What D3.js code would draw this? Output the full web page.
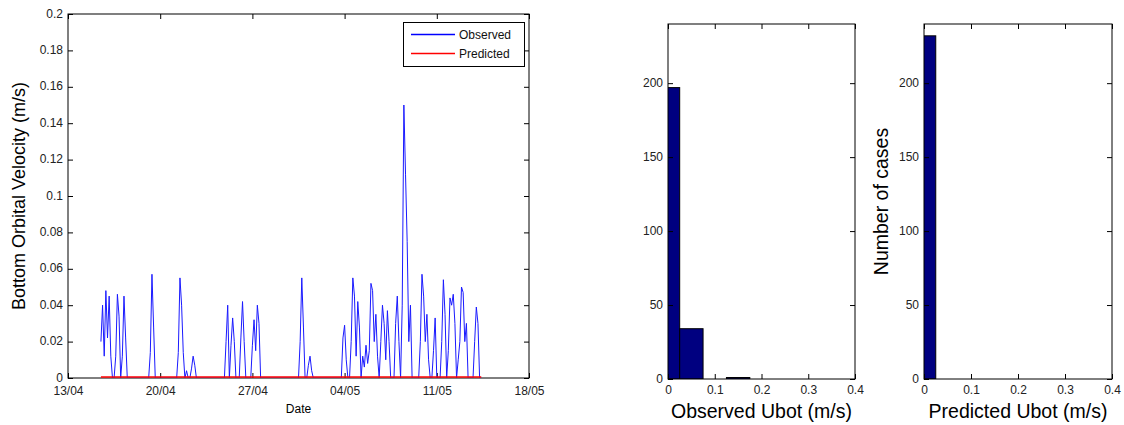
<!DOCTYPE html>
<html>
<head>
<meta charset="utf-8">
<title>Bottom orbital velocity</title>
<script src="https://d3js.org/d3.v7.min.js"></script>
<style>
  body { margin: 0; background: #fff; }
  svg { display: block; font-family: Arial, "Liberation Sans", sans-serif; }
  .tick text { fill: #222; }
</style>
</head>
<body>
<svg id="chart" width="1124" height="425"></svg>
<script>
// observed Ubot (m/s), 3-hourly from 15/04 12:00, one row per day
const observed = [
  0.02, 0.04, 0.012, 0.048, 0.022, 0.045, 0.012, 0,
  0, 0.012, 0.046, 0.034, 0, 0.012, 0.045, 0.022,
  0, 0, 0, 0, 0, 0, 0, 0,
  0, 0, 0, 0, 0, 0, 0.014, 0.057,
  0.028, 0, 0, 0, 0, 0, 0, 0,
  0, 0, 0, 0, 0, 0, 0, 0.014,
  0.055, 0.04, 0.014, 0, 0.004, 0, 0, 0.005,
  0.012, 0.007, 0, 0, 0, 0, 0, 0,
  0, 0, 0, 0, 0, 0, 0, 0,
  0, 0, 0, 0, 0.02, 0.04, 0, 0.018,
  0.033, 0.02, 0, 0, 0, 0.022, 0.042, 0.02,
  0, 0, 0, 0, 0.018, 0.032, 0.015, 0.04,
  0.03, 0, 0, 0, 0, 0, 0, 0,
  0, 0, 0, 0, 0, 0, 0, 0,
  0, 0, 0, 0, 0, 0, 0, 0,
  0, 0.02, 0.055, 0.028, 0, 0, 0.007, 0.012,
  0.004, 0, 0, 0, 0, 0, 0, 0,
  0, 0, 0, 0, 0, 0, 0, 0,
  0, 0, 0, 0.022, 0.029, 0.01, 0, 0,
  0.02, 0.055, 0.045, 0.012, 0.042, 0.028, 0, 0.012,
  0.006, 0.018, 0.008, 0.015, 0.052, 0.048, 0.02, 0.035,
  0.012, 0, 0.02, 0.04, 0.03, 0.01, 0.037, 0.02,
  0, 0, 0, 0.03, 0.045, 0.02, 0, 0.04,
  0.15, 0.112, 0.075, 0.02, 0.04, 0, 0, 0,
  0, 0, 0.02, 0.057, 0.045, 0.02, 0.035, 0.01,
  0, 0, 0.015, 0.033, 0, 0, 0, 0.02,
  0.054, 0.035, 0, 0.015, 0.044, 0.04, 0.046, 0.03,
  0, 0.01, 0.02, 0.05, 0.047, 0.02, 0.03, 0,
  0, 0, 0, 0.02, 0.039, 0.03, 0, 0
];
// predicted Ubot (m/s), same times
const predicted = [
  0, 0, 0, 0, 0, 0, 0, 0,  0, 0, 0, 0, 0, 0, 0, 0,
  0, 0, 0, 0, 0, 0, 0, 0,  0, 0, 0, 0, 0, 0, 0, 0,
  0, 0, 0, 0, 0, 0, 0, 0,  0, 0, 0, 0, 0, 0, 0, 0,
  0, 0, 0, 0, 0, 0, 0, 0,  0, 0, 0, 0, 0, 0, 0, 0,
  0, 0, 0, 0, 0, 0, 0, 0,  0, 0, 0, 0, 0, 0, 0, 0,
  0, 0, 0, 0, 0, 0, 0, 0,  0, 0, 0, 0, 0, 0, 0, 0,
  0, 0, 0, 0, 0, 0, 0, 0,  0, 0, 0, 0, 0, 0, 0, 0,
  0, 0, 0, 0, 0, 0, 0, 0,  0, 0, 0, 0, 0, 0, 0, 0,
  0, 0, 0, 0, 0, 0, 0, 0,  0, 0, 0, 0, 0, 0, 0, 0,
  0, 0, 0, 0, 0, 0, 0, 0,  0, 0, 0, 0, 0, 0, 0, 0,
  0, 0, 0, 0, 0, 0, 0, 0,  0, 0, 0, 0, 0, 0, 0, 0,
  0, 0, 0, 0, 0, 0, 0, 0,  0, 0, 0, 0, 0, 0, 0, 0,
  0, 0, 0, 0, 0, 0, 0, 0,  0, 0, 0, 0, 0, 0, 0, 0,
  0, 0, 0, 0, 0, 0, 0, 0,  0, 0, 0, 0, 0, 0, 0, 0,
  0, 0, 0, 0, 0, 0, 0, 0
];
const startTime = new Date(Date.UTC(2010, 3, 15, 12));
const stepHours = 3;

const dateTicks = ["13/04", "20/04", "27/04", "04/05", "11/05", "18/05"];
const velocityTicks = [0, 0.02, 0.04, 0.06, 0.08, 0.1, 0.12, 0.14, 0.16, 0.18, 0.2];

// histograms: bin centres (m/s) and counts
const binCentres = [0, 0.05, 0.1, 0.15];
const observedCounts = [197, 34, 0, 1];
const predictedCounts = [232, 0, 0, 0];
const binWidth = 0.05;
const ubotTicks = [0, 0.1, 0.2, 0.3, 0.4];
const countTicks = [0, 50, 100, 150, 200];

const svg = d3.select("#chart");
const parseTick = d3.utcParse("%d/%m/%Y");

// ---------- time series ----------
const m = { left: 68, right: 529, top: 14, bottom: 378 };
const times = observed.map((d, i) => d3.utcHour.offset(startTime, i * stepHours));
const tickDates = dateTicks.map(s => parseTick(s + "/2010"));

const x = d3.scaleUtc().domain([tickDates[0], tickDates[tickDates.length - 1]]).range([m.left, m.right]);
const y = d3.scaleLinear().domain([0, 0.2]).range([m.bottom, m.top]);

svg.append("defs").append("clipPath").attr("id", "clip-main")
  .append("rect").attr("x", m.left).attr("y", m.top - 1)
  .attr("width", m.right - m.left).attr("height", m.bottom - m.top + 1);

function frame(g, x0, x1, y0, y1) {
  g.append("rect").attr("x", x0).attr("y", y0).attr("width", x1 - x0).attr("height", y1 - y0)
    .attr("fill", "none").attr("stroke", "#000").attr("stroke-width", 1);
}

const main = svg.append("g");
frame(main, m.left, m.right, m.top, m.bottom);
main.append("g").attr("transform", `translate(0,${m.bottom})`)
  .call(d3.axisBottom(x).tickValues(tickDates).tickFormat(d3.utcFormat("%d/%m")).tickSizeInner(-5).tickSizeOuter(0).tickPadding(8))
  .call(g => g.selectAll("text").attr("font-size", 12));
main.append("g").attr("transform", `translate(0,${m.top})`)
  .call(d3.axisTop(x).tickValues(tickDates).tickFormat("").tickSizeInner(-5).tickSizeOuter(0));
main.append("g").attr("transform", `translate(${m.left},0)`)
  .call(d3.axisLeft(y).tickValues(velocityTicks).tickFormat(d => d3.format("")(+d.toFixed(2))).tickSizeInner(-5).tickSizeOuter(0).tickPadding(5))
  .call(g => g.selectAll("text").attr("font-size", 12).attr("dy", "0.25em"));
main.append("g").attr("transform", `translate(${m.right},0)`)
  .call(d3.axisRight(y).tickValues(velocityTicks).tickFormat("").tickSizeInner(-5).tickSizeOuter(0));
main.selectAll(".domain").remove();

const line = d3.line().x((d, i) => x(times[i])).y(d => y(d));
main.append("path").datum(observed).attr("clip-path", "url(#clip-main)")
  .attr("fill", "none").attr("stroke", "#1a1aff").attr("stroke-width", 1).attr("d", line);
main.append("path").datum(predicted)
  .attr("transform", "translate(0,-1)")
  .attr("fill", "none").attr("stroke", "#ff0000").attr("stroke-width", 1.5).attr("d", line);

main.append("text").attr("x", (m.left + m.right) / 2).attr("y", 413)
  .attr("text-anchor", "middle").attr("font-size", 12).text("Date");
main.append("text").attr("transform", `translate(25,${(m.top + m.bottom) / 2}) rotate(-90)`)
  .attr("text-anchor", "middle").attr("font-size", 18).text("Bottom Orbital Velocity (m/s)");

// legend
const legend = main.append("g");
legend.append("rect").attr("x", 403.5).attr("y", 22.5).attr("width", 121).attr("height", 44)
  .attr("fill", "#fff").attr("stroke", "#000");
const legendItems = [{ name: "Observed", color: "#0000ff" }, { name: "Predicted", color: "#ff0000" }];
legend.selectAll("line").data(legendItems).join("line")
  .attr("x1", 411).attr("x2", 455)
  .attr("y1", (d, i) => 34.5 + i * 19).attr("y2", (d, i) => 34.5 + i * 19)
  .attr("stroke", d => d.color).attr("stroke-width", 1.5);
legend.selectAll("text").data(legendItems).join("text")
  .attr("x", 459).attr("y", (d, i) => 39 + i * 19)
  .attr("font-size", 12).attr("fill", "#111").text(d => d.name);

// ---------- histograms ----------
function histogram(x0, x1, counts, label, yLabel) {
  const hb = { left: x0, right: x1, top: 24, bottom: 379 };
  const hx = d3.scaleLinear().domain([0, 0.4]).range([hb.left, hb.right]);
  const hy = d3.scaleLinear().domain([0, 240]).range([hb.bottom, hb.top]);
  const g = svg.append("g");
  const id = "clip-" + label.split(" ")[0];
  g.append("clipPath").attr("id", id).append("rect")
    .attr("x", hb.left).attr("y", hb.top).attr("width", hb.right - hb.left).attr("height", hb.bottom - hb.top);
  g.append("g").attr("clip-path", `url(#${id})`).selectAll("rect")
    .data(binCentres.map((c, i) => ({ c, n: counts[i] })).filter(d => d.n > 0))
    .join("rect")
    .attr("x", d => hx(d.c - binWidth / 2)).attr("width", d => hx(d.c + binWidth / 2) - hx(d.c - binWidth / 2))
    .attr("y", d => hy(d.n)).attr("height", d => hy(0) - hy(d.n))
    .attr("fill", "#000080").attr("stroke", "#000").attr("stroke-width", 1);

  g.append("g").attr("transform", `translate(0,${hb.bottom})`)
    .call(d3.axisBottom(hx).tickValues(ubotTicks).tickFormat(d3.format("")).tickSizeInner(-5).tickSizeOuter(0).tickPadding(6))
    .call(a => a.selectAll("text").attr("font-size", 12));
  g.append("g").attr("transform", `translate(0,${hb.top})`)
    .call(d3.axisTop(hx).tickValues(ubotTicks).tickFormat("").tickSizeInner(-5).tickSizeOuter(0));
  g.append("g").attr("transform", `translate(${hb.left},0)`)
    .call(d3.axisLeft(hy).tickValues(countTicks).tickSizeInner(-5).tickSizeOuter(0).tickPadding(5))
    .call(a => a.selectAll("text").attr("font-size", 12).attr("dy", "0.28em"));
  g.append("g").attr("transform", `translate(${hb.right},0)`)
    .call(d3.axisRight(hy).tickValues(countTicks).tickFormat("").tickSizeInner(-5).tickSizeOuter(0));
  g.selectAll(".domain").remove();
  frame(g, hb.left, hb.right, hb.top, hb.bottom);

  g.append("text").attr("x", (hb.left + hb.right) / 2).attr("y", 418)
    .attr("text-anchor", "middle").attr("font-size", 19.5).text(label);
  if (yLabel) {
    g.append("text").attr("transform", `translate(888,${(hb.top + hb.bottom) / 2}) rotate(-90)`)
      .attr("text-anchor", "middle").attr("font-size", 19.5).text(yLabel);
  }
}
histogram(668, 855, observedCounts, "Observed Ubot (m/s)", null);
histogram(924, 1112, predictedCounts, "Predicted Ubot (m/s)", "Number of cases");
</script>
</body>
</html>
